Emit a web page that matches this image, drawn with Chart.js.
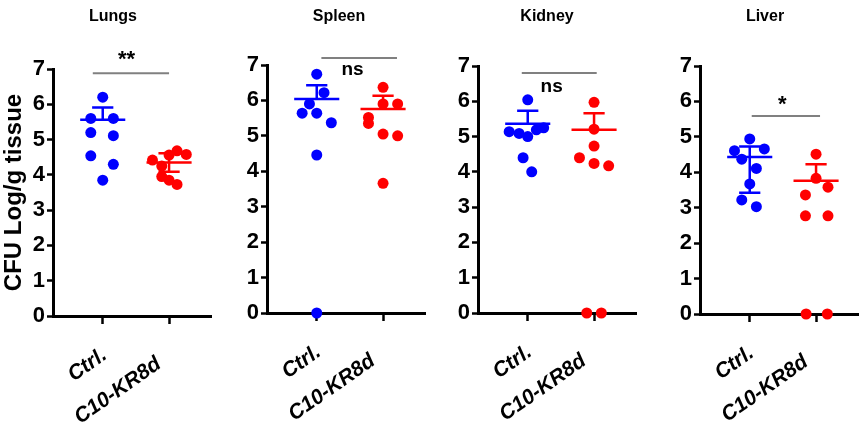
<!DOCTYPE html>
<html>
<head>
<meta charset="utf-8">
<script src="https://cdn.jsdelivr.net/npm/chart.js@4.4.1/dist/chart.umd.min.js"></script>
<style>
  html, body { margin: 0; padding: 0; background: #fff; }
  #wrap { position: relative; width: 865px; height: 424px; overflow: hidden; }
  #wrap canvas { position: absolute; top: 0; }
</style>
</head>
<body>
<div id="wrap"></div>
<script>
// Groups and organs
const groups = ['Ctrl.', 'C10-KR8d'];
const organs = ['Lungs', 'Spleen', 'Kidney', 'Liver'];
const yTicks = [0, 1, 2, 3, 4, 5, 6, 7];

// CFU (log/g tissue) per animal
const lungsCtrl = [6.20, 5.60, 5.60, 5.20, 5.11, 4.54, 4.30, 3.85];
const lungsTrt = [4.42, 4.25, 4.56, 4.68, 4.58, 3.95, 3.85, 3.73];
const spleenCtrl = [6.74, 6.22, 5.90, 5.64, 5.64, 5.37, 4.46, 0];
const spleenTrt = [6.37, 5.90, 5.90, 5.52, 5.35, 5.05, 5.00, 3.66];
const kidneyCtrl = [6.04, 5.14, 5.09, 5.00, 5.19, 5.25, 4.40, 4.00];
const kidneyTrt = [5.97, 5.21, 4.73, 4.40, 4.24, 4.17, 0, 0];
const liverCtrl = [4.94, 4.61, 4.66, 4.37, 4.11, 3.67, 3.22, 3.03];
const liverTrt = [4.51, 3.83, 3.58, 3.36, 2.77, 2.77, 0, 0];

// sideways scatter of each dot (fraction of the group spacing)
const lungsCtrlSpread = [0, -0.18, 0.16, -0.18, 0.16, -0.18, 0.16, 0];
const lungsTrtSpread = [-0.25, -0.11, 0, 0.12, 0.26, -0.11, 0, 0.12];
const spleenCtrlSpread = [0, 0.11, -0.11, -0.22, 0, 0.22, 0, 0];
const spleenTrtSpread = [0, 0, 0.22, -0.22, -0.22, 0, 0.22, 0];
const kidneyCtrlSpread = [0, -0.28, -0.13, 0, 0.13, 0.24, -0.07, 0.06];
const kidneyTrtSpread = [0, 0, 0, -0.22, 0, 0.22, -0.11, 0.11];
const liverCtrlSpread = [0, -0.23, 0.22, -0.12, 0.10, 0, -0.12, 0.10];
const liverTrtSpread = [0, 0, 0.18, -0.16, -0.16, 0.18, -0.15, 0.17];

// mean and error bar ends, [Ctrl., C10-KR8d]; low == mean means no lower bar is shown
const lungsMean = [5.56, 4.35], lungsHigh = [5.91, 4.61], lungsLow = [5.56, 4.09];
const spleenMean = [6.04, 5.76], spleenHigh = [6.43, 6.13], spleenLow = [6.04, 5.76];
const kidneyMean = [5.36, 5.19], kidneyHigh = [5.73, 5.66], kidneyLow = [5.36, 5.19];
const liverMean = [4.43, 3.76], liverHigh = [4.73, 4.23], liverLow = [3.42, 3.76];

// significance brackets
const sigLabels = ['**', 'ns', 'ns', '*'];
const sigLevels = [6.88, 7.2, 6.8, 5.59];
const sigFrom = [-0.15, 0.07, -0.09, 0.03];
const sigTo = [1.0, 1.21, 1.04, 1.06];

const panelData = [
  { ctrl: lungsCtrl, trt: lungsTrt, cs: lungsCtrlSpread, ts: lungsTrtSpread, mean: lungsMean, high: lungsHigh, low: lungsLow },
  { ctrl: spleenCtrl, trt: spleenTrt, cs: spleenCtrlSpread, ts: spleenTrtSpread, mean: spleenMean, high: spleenHigh, low: spleenLow },
  { ctrl: kidneyCtrl, trt: kidneyTrt, cs: kidneyCtrlSpread, ts: kidneyTrtSpread, mean: kidneyMean, high: kidneyHigh, low: kidneyLow },
  { ctrl: liverCtrl, trt: liverTrt, cs: liverCtrlSpread, ts: liverTrtSpread, mean: liverMean, high: liverHigh, low: liverLow }
];

// layout of each panel on the page (pixels)
const layout = [
  { axisX: 53, top: 69, bottom: 316, titleX: 113, sigX: 0.36, sigDy: -17 },
  { axisX: 267, top: 65, bottom: 313, titleX: 339, sigX: 0.54, sigDy: 12 },
  { axisX: 478, top: 66, bottom: 313, titleX: 547, sigX: 0.36, sigDy: 14 },
  { axisX: 700, top: 66, bottom: 314, titleX: 765, sigX: 0.49, sigDy: -15 }
];

const colors = ['#0000ff', '#ff0000'];
const FONT = 'Arial, "Liberation Sans", Helvetica, sans-serif';
const Y_W = 53, PLOT_W = 160, PAD_R = 4, H = 424;
const X_MIN = -0.75, X_MAX = 1.64;
const labelOffsets = [[2, 37], [-10, 46]];

Chart.defaults.font.family = FONT;
Chart.defaults.color = '#000';

const extras = {
  id: 'extras',
  afterDatasetsDraw(chart, args, opts) {
    const d = opts.data, L = opts.layout, idx = opts.index;
    const ctx = chart.ctx;
    const xs = chart.scales.x, ys = chart.scales.y;
    ctx.save();
    ctx.lineCap = 'butt';
    // mean + error bars
    d.mean.forEach((m, i) => {
      const cx = xs.getPixelForValue(i);
      const w = xs.getPixelForValue(i + 0.34) - cx;
      const cw = xs.getPixelForValue(i + 0.16) - cx;
      const yHi = ys.getPixelForValue(d.high[i]);
      const yLo = ys.getPixelForValue(d.low[i]);
      const yM = ys.getPixelForValue(m);
      ctx.strokeStyle = colors[i];
      ctx.lineWidth = 2.5;
      ctx.beginPath();
      ctx.moveTo(cx - w, yM); ctx.lineTo(cx + w, yM);
      ctx.moveTo(cx, yLo); ctx.lineTo(cx, yHi);
      ctx.moveTo(cx - cw, yHi); ctx.lineTo(cx + cw, yHi);
      if (d.low[i] < m) {
        ctx.moveTo(cx - cw, yLo); ctx.lineTo(cx + cw, yLo);
      }
      ctx.stroke();
    });
    // significance bracket
    const by = ys.getPixelForValue(sigLevels[idx]);
    ctx.strokeStyle = '#808080';
    ctx.lineWidth = 2;
    ctx.beginPath();
    ctx.moveTo(xs.getPixelForValue(sigFrom[idx]), by);
    ctx.lineTo(xs.getPixelForValue(sigTo[idx]), by);
    ctx.stroke();
    ctx.fillStyle = '#000';
    ctx.textAlign = 'center';
    ctx.textBaseline = 'middle';
    const isNs = sigLabels[idx] === 'ns';
    ctx.font = (isNs ? 'bold 19px ' : 'bold 22px ') + FONT;
    ctx.fillText(sigLabels[idx], xs.getPixelForValue(L.sigX), by + L.sigDy + (isNs ? 0 : 4));
    ctx.restore();
  },
  afterDraw(chart, args, opts) {
    const L = opts.layout;
    const ctx = chart.ctx;
    const xs = chart.scales.x;
    ctx.save();
    ctx.fillStyle = '#000';
    // panel title
    ctx.font = 'bold 16px ' + FONT;
    ctx.textAlign = 'center';
    ctx.textBaseline = 'middle';
    ctx.fillText(organs[opts.index], L.titleX - (L.axisX - Y_W), 17);
    // slanted group labels
    ctx.font = 'italic bold 21px ' + FONT;
    ctx.textAlign = 'right';
    groups.forEach((g, i) => {
      ctx.save();
      ctx.translate(xs.getPixelForValue(i) + labelOffsets[i][0], L.bottom + labelOffsets[i][1]);
      ctx.rotate(-35 * Math.PI / 180);
      ctx.fillText(g, 0, 0);
      ctx.restore();
    });
    ctx.restore();
  }
};

const wrap = document.getElementById('wrap');

layout.forEach((L, p) => {
  const d = panelData[p];
  const canvas = document.createElement('canvas');
  const left = L.axisX - Y_W;
  canvas.width = Y_W + PLOT_W + PAD_R;
  canvas.height = H;
  canvas.style.left = left + 'px';
  wrap.appendChild(canvas);

  new Chart(canvas, {
    type: 'scatter',
    data: {
      datasets: [
        {
          data: d.ctrl.map((v, k) => ({ x: 0 + d.cs[k], y: v })),
          backgroundColor: colors[0],
          borderWidth: 0,
          pointRadius: 5.5,
          clip: false
        },
        {
          data: d.trt.map((v, k) => ({ x: 1 + d.ts[k], y: v })),
          backgroundColor: colors[1],
          borderWidth: 0,
          pointRadius: 5.5,
          clip: false
        }
      ]
    },
    options: {
      responsive: false,
      animation: false,
      events: [],
      layout: { padding: { left: 0, right: PAD_R, top: L.top, bottom: 0 } },
      scales: {
        x: {
          type: 'linear',
          min: X_MIN,
          max: X_MAX,
          afterBuildTicks: s => { s.ticks = groups.map((g, i) => ({ value: i })); },
          afterFit: s => { s.height = H - L.bottom; },
          ticks: { display: false },
          grid: { drawOnChartArea: false, drawTicks: true, tickLength: 8, tickWidth: 2.5, tickColor: '#000' },
          border: { display: true, width: 3, color: '#000' }
        },
        y: {
          min: 0,
          max: 7,
          afterBuildTicks: s => { s.ticks = yTicks.map(v => ({ value: v })); },
          afterFit: s => { s.width = Y_W; },
          ticks: { padding: 2, color: '#000', font: { size: 22, weight: 'bold' } },
          grid: { drawOnChartArea: false, drawTicks: true, tickLength: 6, tickWidth: 2.5, tickColor: '#000' },
          border: { display: true, width: 3, color: '#000' },
          title: {
            display: p === 0,
            text: 'CFU Log/g tissue',
            color: '#000',
            padding: 0,
            font: { size: 24, weight: 'bold' }
          }
        }
      },
      plugins: {
        legend: { display: false },
        tooltip: { enabled: false },
        extras: { data: d, layout: L, index: p }
      }
    },
    plugins: [extras]
  });
});
</script>
</body>
</html>
